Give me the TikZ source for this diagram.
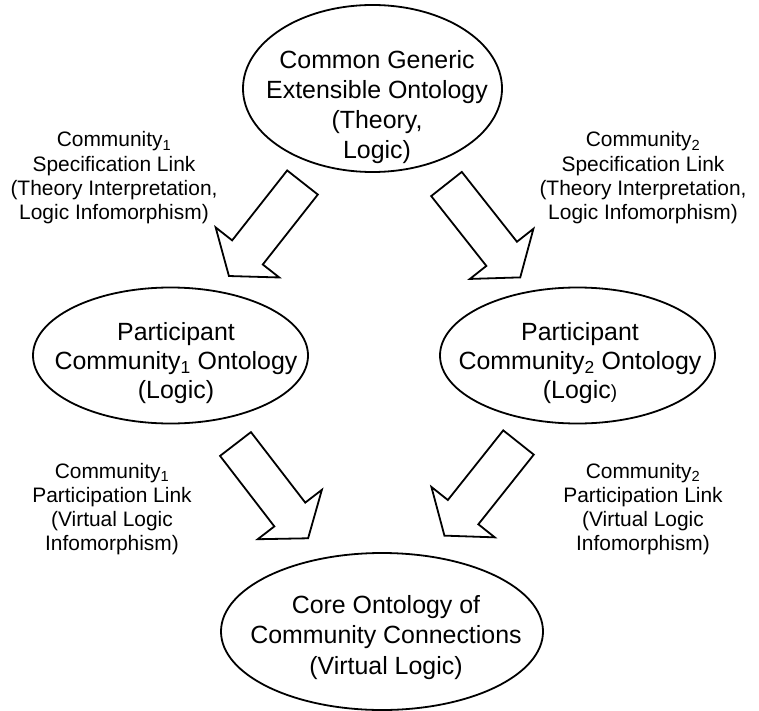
\documentclass[tikz,border=0pt]{standalone}
\usepackage{fontspec}
\setmainfont{Liberation Sans}
\usetikzlibrary{shapes.geometric}
\newcommand{\mylines}[1]{\begin{tabular}[t]{@{}c@{}}#1\end{tabular}}
\tikzset{
  oval/.style={draw, ellipse, line width=1.8bp, inner sep=0pt},
  bigtext/.style={anchor=base, inner sep=0pt, font=\fontsize{25}{30}\selectfont},
  smalltext/.style={anchor=base, inner sep=0pt, font=\fontsize{21}{24.3}\selectfont},
  blk/.style={draw, line width=1.8bp, fill=white}
}
\begin{document}
\begin{tikzpicture}[x=1bp,y=-1bp]
\useasboundingbox (0,0) rectangle (759,711);

% ellipses
\node[oval, minimum width=259bp, minimum height=167bp] (top) at (372.5,88.5) {};
\node[oval, minimum width=275bp, minimum height=136bp] (midL) at (170.5,355.5) {};
\node[oval, minimum width=275bp, minimum height=136bp] (midR) at (577.5,355.5) {};
\node[oval, minimum width=322bp, minimum height=157bp] (bot) at (382,631.5) {};

% ellipse texts
\node[bigtext] (topT) at (377,68.5) {\mylines{Common Generic\\Extensible Ontology\\(Theory,\\Logic)}};
\node[bigtext, font=\fontsize{25}{29.5}\selectfont] (midLT) at (176,340) {\mylines{Participant\\Community\textsubscript{1} Ontology\\(Logic)}};
\node[bigtext, font=\fontsize{25}{29.5}\selectfont] (midRT) at (580,340) {\mylines{Participant\\Community\textsubscript{2} Ontology\\(Logic{\fontsize{19}{29.5}\selectfont)}}};
\node[bigtext, font=\fontsize{25}{31}\selectfont] (botT) at (386,613) {\mylines{Core Ontology of\\Community Connections\\(Virtual Logic)}};

% link labels
\node[smalltext] (specL) at (114,147) {\mylines{Community\textsubscript{1}\\Specification Link\\(Theory Interpretation,\\Logic Infomorphism)}};
\node[smalltext] (specR) at (643,147) {\mylines{Community\textsubscript{2}\\Specification Link\\(Theory Interpretation,\\Logic Infomorphism)}};
\node[smalltext] (partL) at (112,478) {\mylines{Community\textsubscript{1}\\Participation Link\\(Virtual Logic\\Infomorphism)}};
\node[smalltext] (partR) at (643,478) {\mylines{Community\textsubscript{2}\\Participation Link\\(Virtual Logic\\Infomorphism)}};

% block arrows
\draw[blk, shift={(302.5,182.5)}, rotate=-128.2]
  (0,-19.5) -- (89,-19.5) -- (89,-40.5) -- (119,0) -- (89,40.5) -- (89,19.5) -- (0,19.5) -- cycle;
\draw[blk, shift={(446.5,184)}, rotate=-51.7]
  (0,-19.5) -- (89,-19.5) -- (89,-40.5) -- (119,0) -- (89,40.5) -- (89,19.5) -- (0,19.5) -- cycle;
\draw[blk, shift={(235.5,444)}, rotate=-52.4]
  (0,-19.5) -- (89,-19.5) -- (89,-40.5) -- (119,0) -- (89,40.5) -- (89,19.5) -- (0,19.5) -- cycle;
\draw[blk, shift={(518.5,442.5)}, rotate=-128.5]
  (0,-19.5) -- (89,-19.5) -- (89,-40.5) -- (119,0) -- (89,40.5) -- (89,19.5) -- (0,19.5) -- cycle;
\end{tikzpicture}
\end{document}
